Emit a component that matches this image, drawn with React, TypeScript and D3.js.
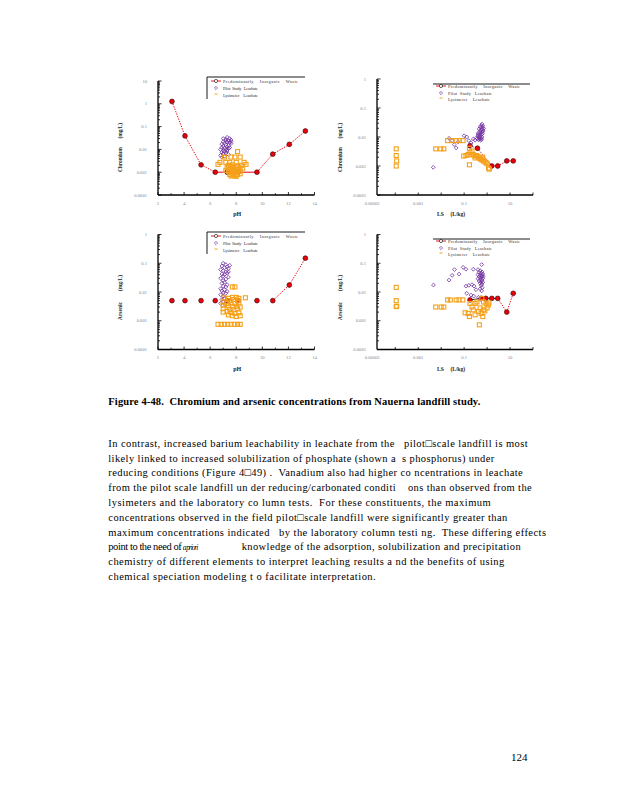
import React from 'react';
import * as d3 from 'd3';

type Pt = [number, number];

// ---------------- DATA ----------------
// Chromium vs pH
const CR_PH_PRED_X = [3.07, 4.07, 5.3, 6.39, 7.31, 8.15, 9.59, 10.8, 12.07, 13.3];
const CR_PH_PRED_Y = [1.27, 0.039, 0.0021, 0.001, 0.001, 0.001, 0.001, 0.0062, 0.0166, 0.064];
const CR_PH_PILOT: Pt[] = [
  [7.3, 0.034], [7.5, 0.03], [7.2, 0.028], [7.6, 0.026], [7.4, 0.024], [7.0, 0.022], [7.3, 0.021],
  [7.5, 0.02], [7.1, 0.019], [7.6, 0.018], [6.9, 0.017], [7.2, 0.016], [7.4, 0.015], [7.0, 0.014],
  [7.3, 0.013], [6.9, 0.012], [7.1, 0.0115], [7.4, 0.011], [7.2, 0.01], [6.8, 0.0098], [7.0, 0.009],
  [7.3, 0.0085], [7.1, 0.008], [6.9, 0.0075], [7.2, 0.007], [7.0, 0.0065], [7.4, 0.006], [6.8, 0.0055],
  [7.1, 0.005], [6.9, 0.0045], [7.3, 0.0095], [7.5, 0.012], [7.2, 0.024], [7.0, 0.03], [7.6, 0.022],
];
const CR_PH_LYSI: Pt[] = [
  [8.1, 0.008], [7.1, 0.0046], [7.6, 0.0046], [7.9, 0.0046], [8.3, 0.0046], [6.75, 0.0027], [7.2, 0.0027],
  [7.5, 0.0027], [8.0, 0.0027], [8.6, 0.0027], [8.75, 0.0022], [6.6, 0.0022], [7.4, 0.002], [7.6, 0.0018],
  [7.8, 0.0016], [8.0, 0.0019], [8.2, 0.0017], [7.5, 0.0014], [7.7, 0.0013], [7.9, 0.0012], [8.1, 0.0013],
  [8.3, 0.0014], [7.4, 0.0011], [7.6, 0.001], [7.8, 0.0009], [8.0, 0.001], [8.2, 0.0011], [7.5, 0.0008],
  [7.7, 0.00075], [7.9, 0.0007], [8.1, 0.0008], [8.3, 0.00085], [7.6, 0.00068], [8.0, 0.00066],
  [7.3, 0.0016], [8.4, 0.002], [7.7, 0.0021], [7.2, 0.0012], [8.5, 0.0015],
];

// Chromium vs LS
const CR_LS_PRED_X = [0.18, 0.38, 1.6, 2.9, 7.2, 13.8];
const CR_LS_PRED_Y = [0.005, 0.0041, 0.001, 0.001, 0.0015, 0.0015];
const CR_LS_PILOT: Pt[] = [
  [0.0045, 0.0009], [0.022, 0.009], [0.03, 0.0075], [0.037, 0.0055], [0.045, 0.0042], [0.055, 0.0068],
  [0.1, 0.011], [0.13, 0.01], [0.16, 0.0075], [0.2, 0.0062], [0.25, 0.0085], [0.3, 0.0078],
  [0.6, 0.028], [0.55, 0.025], [0.65, 0.024], [0.5, 0.022], [0.6, 0.021], [0.45, 0.019], [0.55, 0.018],
  [0.65, 0.018], [0.5, 0.016], [0.6, 0.015], [0.42, 0.014], [0.52, 0.014], [0.62, 0.013], [0.47, 0.012],
  [0.57, 0.012], [0.4, 0.011], [0.5, 0.0105], [0.6, 0.01], [0.45, 0.0095], [0.55, 0.009], [0.38, 0.0088],
  [0.48, 0.0085], [0.58, 0.0082], [0.42, 0.008], [0.52, 0.0078], [0.35, 0.0095], [0.4, 0.0125],
  [0.68, 0.016], [0.7, 0.02],
];
const CR_LS_LYSI: Pt[] = [
  [0.00011, 0.0039], [0.00011, 0.0023], [0.000115, 0.0015], [0.00011, 0.001],
  [0.0058, 0.0039], [0.0095, 0.0039], [0.013, 0.0039],
  [0.019, 0.0075], [0.029, 0.0075], [0.045, 0.0075], [0.062, 0.0075], [0.09, 0.0075],
  [0.095, 0.0022], [0.12, 0.0023], [0.15, 0.0025], [0.18, 0.0029], [0.2, 0.0024], [0.25, 0.0025],
  [0.3, 0.0022], [0.35, 0.0023], [0.4, 0.0021], [0.45, 0.0019], [0.5, 0.0018], [0.55, 0.0017],
  [0.6, 0.0016], [0.7, 0.0015], [0.8, 0.0014], [0.9, 0.0013], [1.0, 0.0012], [0.17, 0.0011],
  [1.15, 0.00085], [1.25, 0.00078], [0.17, 0.0041], [0.22, 0.0033], [0.3, 0.0019], [0.65, 0.002],
];

// Arsenic vs pH
const AS_PH_PRED_X = [3.07, 4.07, 5.3, 6.39, 7.31, 8.15, 9.59, 10.8, 12.07, 13.3];
const AS_PH_PRED_Y = [0.005, 0.005, 0.005, 0.005, 0.005, 0.005, 0.005, 0.005, 0.0175, 0.15];
const AS_PH_PILOT: Pt[] = [
  [7.0, 0.1], [7.2, 0.09], [6.9, 0.08], [7.3, 0.075], [7.1, 0.07], [7.4, 0.065], [6.8, 0.06], [7.0, 0.055],
  [7.2, 0.05], [7.3, 0.045], [6.9, 0.042], [7.1, 0.04], [7.0, 0.036], [7.4, 0.033], [6.8, 0.03], [7.2, 0.028],
  [7.0, 0.025], [7.1, 0.022], [6.9, 0.02], [7.3, 0.018], [7.0, 0.016], [7.2, 0.015], [6.8, 0.013],
  [7.1, 0.012], [6.9, 0.011], [7.3, 0.0105], [7.0, 0.0095], [7.2, 0.009], [6.8, 0.008], [7.0, 0.007],
  [7.1, 0.006], [6.9, 0.0055], [7.0, 0.0045], [6.8, 0.004], [7.1, 0.0038], [7.5, 0.085], [7.4, 0.05],
];
const AS_PH_LYSI: Pt[] = [
  [7.7, 0.015], [7.9, 0.015], [7.05, 0.0063], [8.7, 0.0063], [7.7, 0.0065], [8.0, 0.0065], [8.2, 0.006],
  [7.4, 0.006], [7.5, 0.005], [7.8, 0.0055], [8.1, 0.005], [7.0, 0.0045], [7.3, 0.004], [7.6, 0.0042],
  [7.9, 0.004], [8.2, 0.0042], [7.0, 0.0035], [7.4, 0.0033], [7.7, 0.003], [8.0, 0.0032], [8.3, 0.003],
  [7.0, 0.0026], [7.5, 0.0025], [7.8, 0.0024], [8.1, 0.0026], [7.0, 0.002], [7.3, 0.0021], [7.6, 0.0019],
  [7.9, 0.0018], [8.2, 0.0019], [7.7, 0.0015], [8.0, 0.0014], [8.3, 0.0015], [7.4, 0.0016],
  [6.6, 0.00075], [6.85, 0.00075], [7.1, 0.00075], [7.35, 0.00075], [7.6, 0.00075], [7.85, 0.00075],
  [8.1, 0.00075], [8.3, 0.00075],
];

// Arsenic vs LS
const AS_LS_PRED_X = [0.18, 0.55, 0.88, 1.6, 2.9, 7.2, 13.8];
const AS_LS_PRED_Y = [0.0053, 0.006, 0.006, 0.006, 0.006, 0.002, 0.009];
const AS_LS_PILOT: Pt[] = [
  [0.0046, 0.0175], [0.022, 0.026], [0.03, 0.038], [0.038, 0.06], [0.06, 0.042], [0.09, 0.072],
  [0.12, 0.062], [0.25, 0.062], [0.58, 0.09], [0.12, 0.016], [0.16, 0.017], [0.22, 0.018], [0.27, 0.016],
  [0.33, 0.012], [0.13, 0.009], [0.2, 0.0078], [0.26, 0.0072], [0.42, 0.0065], [0.5, 0.0055],
  [0.4, 0.06], [0.5, 0.055], [0.6, 0.05], [0.45, 0.048], [0.55, 0.045], [0.65, 0.042], [0.4, 0.04],
  [0.5, 0.038], [0.6, 0.036], [0.45, 0.034], [0.55, 0.032], [0.65, 0.03], [0.4, 0.029], [0.5, 0.027],
  [0.6, 0.026], [0.45, 0.024], [0.55, 0.023], [0.65, 0.022], [0.5, 0.02], [0.6, 0.019], [0.55, 0.017],
  [0.62, 0.014], [0.5, 0.013], [0.58, 0.011], [0.68, 0.035],
];
const AS_LS_LYSI: Pt[] = [
  [0.00011, 0.0145], [0.00011, 0.005], [0.00011, 0.0031], [0.000115, 0.0032],
  [0.0058, 0.003], [0.01, 0.003], [0.013, 0.003],
  [0.019, 0.0053], [0.025, 0.0053], [0.045, 0.0053], [0.06, 0.0053], [0.088, 0.0053],
  [0.18, 0.004], [0.3, 0.004], [0.36, 0.0045], [0.59, 0.006], [0.7, 0.0045], [0.9, 0.004], [1.14, 0.0035],
  [1.2, 0.0042], [0.25, 0.0024], [0.15, 0.0018], [0.42, 0.0021], [0.65, 0.0014], [0.69, 0.0024],
  [0.8, 0.0022], [0.46, 0.00072], [0.11, 0.0019], [0.17, 0.0014], [0.22, 0.003], [0.5, 0.0028],
  [1.0, 0.0028], [0.3, 0.0016], [0.55, 0.0018],
];

// Tick labels
const PH_TICKS = [2, 4, 6, 8, 10, 12, 14];
const LS_TICKS = [0.00001, 0.001, 0.1, 10];
const LS_TICK_LABELS = ['0.00001', '0.001', '0.1', '10'];
const CR_PH_Y_TICKS = [0.0001, 0.001, 0.01, 0.1, 1, 10];
const CR_PH_Y_LABELS = ['0.0001', '0.001', '0.01', '0.1', '1', '10'];
const Y4_TICKS = [0.0001, 0.001, 0.01, 0.1, 1];
const Y4_LABELS = ['0.0001', '0.001', '0.01', '0.1', '1'];

const LEGEND_LABELS = ['Predominantly    Inorganic    Waste', 'Pilot  Study   Leachate', 'Lysimeter    Leachate'];

const CAPTION = 'Figure 4\u201148.  Chromium and arsenic concentrations from Nauerna landfill study.';
const BODY_LINES = [
  'In contrast, increased barium leachability in leachate from the   pilot\u25A1scale landfill is most',
  'likely linked to increased solubilization of phosphate (shown a  s phosphorus) under',
  'reducing conditions (Figure 4\u25A149) .  Vanadium also had higher co ncentrations in leachate',
  'from the pilot scale landfill un der reducing/carbonated conditi    ons than observed from the',
  'lysimeters and the laboratory co lumn tests.  For these constituents, the maximum',
  'concentrations observed in the field pilot\u25A1scale landfill were significantly greater than',
  'maximum concentrations indicated   by the laboratory column testi ng.  These differing effects',
  '',
  'chemistry of different elements to interpret leaching results a nd the benefits of using',
  'chemical speciation modeling t o facilitate interpretation.',
];
const LINE8_A = 'point to the need of';
const LINE8_ITALIC = 'a priori';
const LINE8_B = 'knowledge of the adsorption, solubilization and precipitation';
const PAGE_NUMBER = '124';

// ---------------- LAYOUT ----------------
const BODY_WIDTHS = [419.4, 386, 414.4, 423.4, 382.4, 399, 437.7, 0, 396, 267.4];

const RED = '#e8000b';
const PURPLE = '#7030a0';
const ORANGE = '#f5a01a';
const TICKC = '#7d8898';

type SegStyle = 'dot' | 'solid' | 'black' | 'none';

interface PanelProps {
  xType: 'ph' | 'ls';
  x0: number; x1: number; yTop: number; yBot: number;
  yMax: number;
  yTicks: number[]; yLabels: string[];
  predX: number[]; predY: number[]; seg: SegStyle[];
  pilot: Pt[]; lysi: Pt[];
  yTitle: string; yTitleLen: number; yTitleStart: number; yTitleX: number;
  legend: { x: number; y: number; w: number; left: boolean; textX: number; textW: number[]; rowY: number[] };
}

function Panel(p: PanelProps) {
  const x = p.xType === 'ph'
    ? d3.scaleLinear().domain([2, 14]).range([p.x0, p.x1])
    : d3.scaleLog().domain([1.6e-5, 100]).range([p.x0, p.x1]);
  const y = d3.scaleLog().domain([1e-4, p.yMax]).range([p.yBot, p.yTop]);
  const els: React.ReactNode[] = [];

  // y minor/major ticks
  const eLo = -4, eHi = Math.round(Math.log10(p.yMax));
  for (let e = eLo; e <= eHi; e++) {
    for (let m = 1; m < 10; m++) {
      const v = m * Math.pow(10, e);
      if (v > p.yMax * 1.0001) break;
      const yy = y(v);
      els.push(<line key={`yt${e}${m}`} x1={p.x0} x2={p.x0 + (m === 1 ? 3.5 : 2)} y1={yy} y2={yy} stroke="#000" strokeWidth={0.8} />);
    }
  }
  p.yTicks.forEach((v, i) => {
    els.push(<text key={`yl${i}`} x={p.x0 - 11} y={y(v) + 1.6} fontSize={4.6} textAnchor="end" fill={TICKC} fontFamily="Liberation Serif">{p.yLabels[i]}</text>);
  });
  // x ticks
  if (p.xType === 'ph') {
    for (let v = 2; v <= 14; v++) {
      const xx = (x as any)(v);
      els.push(<line key={`xt${v}`} x1={xx} x2={xx} y1={p.yBot} y2={p.yBot - (v % 2 === 0 ? 3 : 1.8)} stroke="#000" strokeWidth={0.8} />);
    }
    PH_TICKS.forEach((v) => {
      els.push(<text key={`xl${v}`} x={(x as any)(v)} y={p.yBot + 9.5} fontSize={4.6} textAnchor="middle" fill={TICKC} fontFamily="Liberation Serif">{v}</text>);
    });
  } else {
    for (let e = -4; e <= 2; e++) {
      const xx = (x as any)(Math.pow(10, e));
      els.push(<line key={`xt${e}`} x1={xx} x2={xx} y1={p.yBot} y2={p.yBot - 2.5} stroke="#000" strokeWidth={0.8} />);
    }
    LS_TICKS.forEach((v, i) => {
      els.push(<text key={`xl${i}`} x={(x as any)(v)} y={p.yBot + 9.5} fontSize={4.6} textAnchor="middle" fill={TICKC} fontFamily="Liberation Serif">{LS_TICK_LABELS[i]}</text>);
    });
  }
  // axes
  els.push(<line key="ax" x1={p.x0} x2={p.x0} y1={p.yTop} y2={p.yBot} stroke="#000" strokeWidth={1.3} />);
  els.push(<line key="ay" x1={p.x0} x2={p.x1} y1={p.yBot} y2={p.yBot} stroke="#000" strokeWidth={1.3} />);

  // predominantly inorganic waste line
  for (let i = 0; i < p.predX.length - 1; i++) {
    const s = p.seg[i];
    if (s === 'none') continue;
    els.push(
      <line key={`sg${i}`} x1={(x as any)(p.predX[i])} y1={y(p.predY[i])} x2={(x as any)(p.predX[i + 1])} y2={y(p.predY[i + 1])}
        stroke={s === 'black' ? '#111' : RED} strokeWidth={s === 'black' ? 0.9 : 1}
        strokeDasharray={s === 'dot' ? '1.3,1.3' : undefined} />
    );
  }
  p.predX.forEach((v, i) => {
    els.push(<circle key={`pc${i}`} cx={(x as any)(v)} cy={y(p.predY[i])} r={2.4} fill={RED} stroke="#300" strokeWidth={0.6} />);
  });
  // pilot study leachate (diamonds)
  p.pilot.forEach(([a, b], i) => {
    const cx = (x as any)(a), cy = y(b), s = 1.9;
    els.push(<path key={`pl${i}`} d={`M${cx},${cy - s}L${cx + s},${cy}L${cx},${cy + s}L${cx - s},${cy}Z`} fill="none" stroke={PURPLE} strokeWidth={0.8} />);
  });
  // lysimeter leachate (squares)
  p.lysi.forEach(([a, b], i) => {
    const cx = (x as any)(a), cy = y(b), s = 2;
    els.push(<rect key={`ly${i}`} x={cx - s} y={cy - s} width={2 * s} height={2 * s} fill="none" stroke={ORANGE} strokeWidth={1.1} />);
  });

  // legend
  const L = p.legend;
  els.push(<line key="lgt" x1={L.x} x2={L.x + L.w} y1={L.y} y2={L.y} stroke="#000" strokeWidth={0.9} />);
  if (L.left) els.push(<line key="lgl" x1={L.x} x2={L.x} y1={L.y} y2={L.y + 22} stroke="#000" strokeWidth={0.9} />);
  const sx = L.textX - 7;
  els.push(<line key="ls1" x1={sx - 5} x2={sx + 5} y1={L.rowY[0]} y2={L.rowY[0]} stroke={RED} strokeWidth={0.9} />);
  els.push(<circle key="ls1c" cx={sx} cy={L.rowY[0]} r={1.6} fill="#fff" stroke="#000" strokeWidth={0.6} />);
  els.push(<path key="ls2" d={`M${sx},${L.rowY[1] - 1.6}L${sx + 1.6},${L.rowY[1]}L${sx},${L.rowY[1] + 1.6}L${sx - 1.6},${L.rowY[1]}Z`} fill="none" stroke={PURPLE} strokeWidth={0.7} />);
  els.push(<line key="ls3" x1={sx - 1.5} x2={sx + 1.5} y1={L.rowY[2] - 1} y2={L.rowY[2] - 1} stroke={ORANGE} strokeWidth={1} />);
  LEGEND_LABELS.forEach((t, i) => {
    els.push(<text key={`lt${i}`} x={L.textX} y={L.rowY[i] + 1.5} fontSize={4.4} fill="#333" fontFamily="Liberation Serif" textLength={L.textW[i]} lengthAdjust="spacing" style={{ whiteSpace: 'pre' }}>{t}</text>);
  });

  // axis titles
  els.push(<text key="yt" transform={`translate(${p.yTitleX},${p.yTitleStart}) rotate(-90)`} fontSize={5.4} fontWeight="bold" fill="#222" fontFamily="Liberation Serif" textLength={p.yTitleLen} lengthAdjust="spacing" style={{ whiteSpace: 'pre' }}>{p.yTitle}</text>);
  if (p.xType === 'ph') {
    els.push(<text key="xt" x={(p.x0 + p.x1) / 2 + 1} y={p.yBot + 21} fontSize={6} fontWeight="bold" fill="#222" textAnchor="middle" fontFamily="Liberation Serif">pH</text>);
  } else {
    els.push(<text key="xt" x={p.x0 + 60} y={p.yBot + 21} fontSize={5.6} fontWeight="bold" fill="#222" fontFamily="Liberation Serif" textLength={28} lengthAdjust="spacing" style={{ whiteSpace: 'pre' }}>{'LS     (L/kg)'}</text>);
  }
  return <g>{els}</g>;
}

export default function App() {
  const legL = (top: number) => ({ x: 207, y: top, w: 98, left: true, textX: 223, textW: [75, 35, 35], rowY: [top + 4, top + 11, top + 18] });
  const legR = (top: number) => ({ x: 433, y: top, w: 97, left: false, textX: 448, textW: [72, 44, 42], rowY: [top + 2, top + 9, top + 15] });
  return (
    <svg width={618} height={800} style={{ position: 'absolute', left: 0, top: 0, background: '#fff' }} xmlns="http://www.w3.org/2000/svg">
      <rect width={618} height={800} fill="#fff" />
      <Panel xType="ph" x0={158} x1={314.5} yTop={81} yBot={195} yMax={10}
        yTicks={CR_PH_Y_TICKS} yLabels={CR_PH_Y_LABELS}
        predX={CR_PH_PRED_X} predY={CR_PH_PRED_Y}
        seg={['dot', 'dot', 'dot', 'solid', 'solid', 'solid', 'dot', 'dot', 'dot']}
        pilot={CR_PH_PILOT} lysi={CR_PH_LYSI}
        yTitle={'Chromium       (mg/L)'} yTitleLen={49} yTitleStart={172} yTitleX={122}
        legend={legL(77)} />
      <Panel xType="ls" x0={377} x1={533} yTop={79} yBot={195} yMax={1}
        yTicks={Y4_TICKS} yLabels={Y4_LABELS}
        predX={CR_LS_PRED_X} predY={CR_LS_PRED_Y}
        seg={['dot', 'dot', 'dot', 'dot', 'dot']}
        pilot={CR_LS_PILOT} lysi={CR_LS_LYSI}
        yTitle={'Chromium       (mg/L)'} yTitleLen={49} yTitleStart={172} yTitleX={342}
        legend={legR(84)} />
      <Panel xType="ph" x0={158} x1={314.5} yTop={234.5} yBot={349.5} yMax={1}
        yTicks={Y4_TICKS} yLabels={Y4_LABELS}
        predX={AS_PH_PRED_X} predY={AS_PH_PRED_Y}
        seg={['none', 'none', 'none', 'none', 'none', 'none', 'none', 'dot', 'dot']}
        pilot={AS_PH_PILOT} lysi={AS_PH_LYSI}
        yTitle={'Arsenic        (mg/L)'} yTitleLen={45} yTitleStart={320} yTitleX={122}
        legend={legL(232)} />
      <Panel xType="ls" x0={377} x1={533} yTop={234.5} yBot={349.5} yMax={1}
        yTicks={Y4_TICKS} yLabels={Y4_LABELS}
        predX={AS_LS_PRED_X} predY={AS_LS_PRED_Y}
        seg={['black', 'black', 'black', 'black', 'dot', 'dot']}
        pilot={AS_LS_PILOT} lysi={AS_LS_LYSI}
        yTitle={'Arsenic        (mg/L)'} yTitleLen={45} yTitleStart={320} yTitleX={342}
        legend={legR(239)} />

      <text x={108.3} y={405} fontSize={10.5} fontWeight="bold" fontFamily="Liberation Serif" textLength={372} lengthAdjust="spacing" style={{ whiteSpace: 'pre' }}>{CAPTION}</text>

      {BODY_LINES.map((t, i) => t ? (
        <text key={i} x={108.3} y={446.7 + i * 14.8} fontSize={10.5} fontFamily="Liberation Serif" textLength={BODY_WIDTHS[i]} lengthAdjust="spacing" style={{ whiteSpace: 'pre' }}>{t}</text>
      ) : null)}
      <text x={108.3} y={446.7 + 7 * 14.8} fontSize={10.5} fontFamily="Liberation Serif" textLength={73.4} lengthAdjust="spacing">{LINE8_A}</text>
      <text x={182.7} y={446.7 + 7 * 14.8} fontSize={7.5} fontStyle="italic" fontFamily="Liberation Serif" textLength={15.6} lengthAdjust="spacing">{LINE8_ITALIC}</text>
      <text x={241.7} y={446.7 + 7 * 14.8} fontSize={10.5} fontFamily="Liberation Serif" textLength={279} lengthAdjust="spacing">{LINE8_B}</text>

      <text x={511} y={761} fontSize={11} fontFamily="Liberation Serif">{PAGE_NUMBER}</text>
    </svg>
  );
}
